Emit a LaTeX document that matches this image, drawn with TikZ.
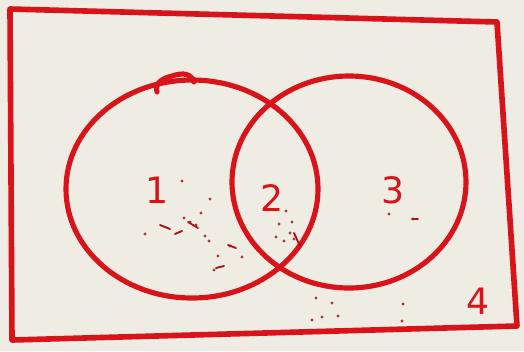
\documentclass[tikz,border=0pt]{standalone}
\usepackage{fontspec}
\setmainfont{DejaVu Sans}
\definecolor{paper}{HTML}{EFECE3}
\definecolor{pen}{HTML}{D8141A}
\begin{document}
\begin{tikzpicture}
  [x=0.03cm,y=-0.03cm,line cap=round,line join=round,
   every node/.style={text=pen,font=\fontsize{31}{31}\selectfont},
   penline/.style={draw=pen,line width=4.4pt},
   speck/.style={fill=pen!70!black,opacity=0.8}]
  % Fondo
  \fill[paper] (0,0) rectangle (524,351);
  \useasboundingbox (0,0) rectangle (524,351);

  % Rectángulo del universo
  \draw[penline,line width=4.8pt] (10,9) -- (497,22) -- (517,326) -- (12,340) -- cycle;

  % Conjuntos
  \draw[penline] (192,189) ellipse [x radius=126, y radius=109];
  \draw[penline] (349,182) ellipse [x radius=117, y radius=106];
  \draw[penline] (157,92) .. controls (155,84) and (160,79) .. (172,76)
    .. controls (184,72) and (191,74) .. (194,82);

  % Regiones
  \node (r1) at (157,190) {1};
  \node (r2) at (272,198) {2};
  \node (r3) at (393,190) {3};
  \node (r4) at (478,301) {4};

  % Manchas
  \foreach \x/\y in {182/181, 210/199, 201/213, 184/218, 190/222, 196/225, 145/234,
                     205/236, 209/241, 230/246, 218/256, 242/257, 214/270,
                     286/211, 279/224, 292/222, 290/233, 276/237, 284/241, 294/239,
                     389/214, 413/219, 316/298, 332/303, 338/316, 322/317, 312/320,
                     403/304, 402/321}
    \fill[speck] (\x,\y) circle (1.6);
  \foreach \a/\b/\c/\d in {160/225/170/229, 175/234/182/231, 188/222/198/228,
                           228/245/236/248, 216/268/224/266, 294/233/300/246,
                           412/219/418/219}
    \draw[draw=pen!80!black,line width=1.6pt] (\a,\b) -- (\c,\d);
\end{tikzpicture}
\end{document}
